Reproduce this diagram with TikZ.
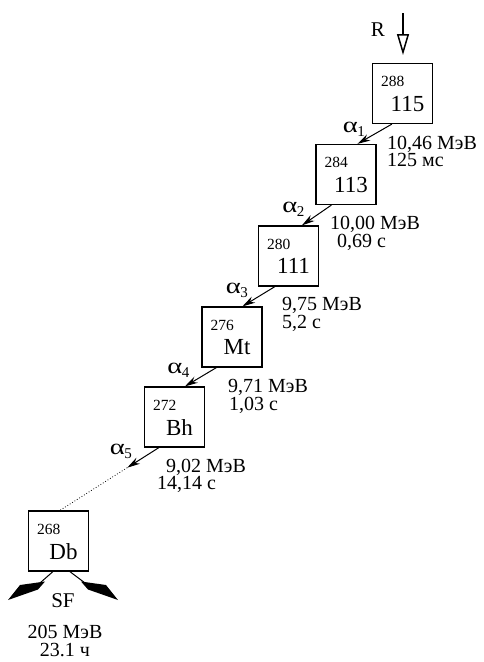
\documentclass[tikz,border=0pt]{standalone}
\usepackage{fontspec}
\setmainfont{Liberation Serif}
\usetikzlibrary{calc,arrows.meta}
\newcommand{\alp}[1]{\scalebox{1.3}[1]{α}\kern-0.5pt\raisebox{-4pt}{\fontsize{15}{15}\selectfont #1}}
\begin{document}
\begin{tikzpicture}[x=1pt,y=-1pt,
  nuc/.style={draw,line width=1.2pt,minimum size=60pt,inner sep=0pt},
  mass/.style={anchor=west,inner sep=0pt,font=\fontsize{15.5}{16}\selectfont},
  elem/.style={inner sep=0pt,font=\fontsize{23}{23}\selectfont},
  info/.style={anchor=west,inner sep=0pt,align=left,font=\fontsize{20}{17.5}\selectfont},
  cinfo/.style={inner sep=0pt,align=center,font=\fontsize{20}{18}\selectfont},
  decay/.style={line width=1pt,-{Stealth[length=13pt,width=7pt]}},
  alab/.style={inner sep=0pt,font=\fontsize{22}{22}\selectfont},
  wedge/.style={fill=black}
]
\useasboundingbox (0,0) rectangle (483,662);

% nuclei
\node[nuc] (n115) at (402.5,93.5) {};
\node[mass] (m115) at ($(n115.north west)+(9,19)$) {288};
\node[elem] (e115) at ($(n115.north)+(5,41)$) {115};

\node[nuc] (n113) at (346,174.5) {};
\node[mass] (m113) at ($(n113.north west)+(9,19)$) {284};
\node[elem] (e113) at ($(n113.north)+(5,41)$) {113};

\node[nuc] (n111) at (288.5,256) {};
\node[mass] (m111) at ($(n111.north west)+(9,19)$) {280};
\node[elem] (e111) at ($(n111.north)+(5,41)$) {111};

\node[nuc] (nmt) at (232,337) {};
\node[mass] (mmt) at ($(nmt.north west)+(9,19)$) {276};
\node[elem] (emt) at ($(nmt.north)+(5,41)$) {Mt};

\node[nuc] (nbh) at (174.5,417) {};
\node[mass] (mbh) at ($(nbh.north west)+(9,19)$) {272};
\node[elem] (ebh) at ($(nbh.north)+(5,41)$) {Bh};

\node[nuc] (ndb) at (58.5,541) {};
\node[mass] (mdb) at ($(ndb.north west)+(9,19)$) {268};
\node[elem] (edb) at ($(ndb.north)+(5,41)$) {Db};

% R arrow
\node[cinfo,font=\fontsize{21}{21}\selectfont] (R) at (378,30) {R};
\coordinate (rtop) at (403,13);
\coordinate (rtip) at (403,55);
\draw[line width=1.5pt,-{Triangle[open,length=21pt,width=12pt]}] (rtop) -- (rtip);

% decay connectors
\coordinate (s1) at ($(n115.south west)+(20,0)$);
\coordinate (t1) at ($(n113.north west)+(42,0)$);
\draw[decay] (s1) -- (t1);
\coordinate (s2) at ($(n113.south west)+(16,0)$);
\coordinate (t2) at ($(n111.north west)+(44,0)$);
\draw[decay] (s2) -- (t2);
\coordinate (s3) at ($(n111.south west)+(17,0)$);
\coordinate (t3) at ($(nmt.north west)+(41,0)$);
\draw[decay] (s3) -- (t3);
\coordinate (s4) at ($(nmt.south west)+(15,0)$);
\coordinate (t4) at ($(nbh.north west)+(41,0)$);
\draw[decay] (s4) -- (t4);
\coordinate (s5) at ($(nbh.south west)+(15,0)$);
\coordinate (t5) at ($(ndb.north west)+(32,0)$);
\coordinate (m5) at ($(s5)!0.32!(t5)$);
\draw[decay] (s5) -- (m5);
\draw[line width=0.8pt,dotted] (m5) -- (t5);

% alpha labels
\node[alab] (a1) at ($(s1)+(-38,5)$) {\alp{1}};
\node[alab] (a2) at ($(s2)+(-38,4)$) {\alp{2}};
\node[alab] (a3) at ($(s3)+(-38,4)$) {\alp{3}};
\node[alab] (a4) at ($(s4)+(-38,3)$) {\alp{4}};
\node[alab] (a5) at ($(s5)+(-38,4)$) {\alp{5}};

% energies and half-lives
\node[info] (i1) at (387,151.5) {10,46 МэВ\\125 мс};
\node[info] (i2) at (330,233.5) {10,00 МэВ\\\hspace*{7pt}0,69 с};
\node[info] (i3) at (282,314.5) {9,75 МэВ\\5,2 с};
\node[info] (i4) at (228,396.5) {9,71 МэВ\\\hspace*{1pt}1,03 с};
\node[info] (i5) at (157,476) {\hspace*{9pt}9,02 МэВ\\14,14 с};

% spontaneous fission
\coordinate (fl) at (40,583);
\coordinate (fr) at (85,583);
\draw[line width=1pt] ($(ndb.south west)+(25,0)$) -- (fl);
\draw[line width=1pt] ($(ndb.south west)+(42,0)$) -- (fr);
\fill[wedge] (45,581.5) -- (20,585) -- (8,600) -- (38,589.5) -- cycle;
\fill[wedge] (81,581.5) -- (106,585) -- (118,600) -- (88,589.5) -- cycle;
\node[cinfo,font=\fontsize{21}{21}\selectfont] (sf) at (63,601) {SF};
\node[cinfo] (sfe) at (65,641) {205 МэВ\\23.1 ч};
\end{tikzpicture}
\end{document}
